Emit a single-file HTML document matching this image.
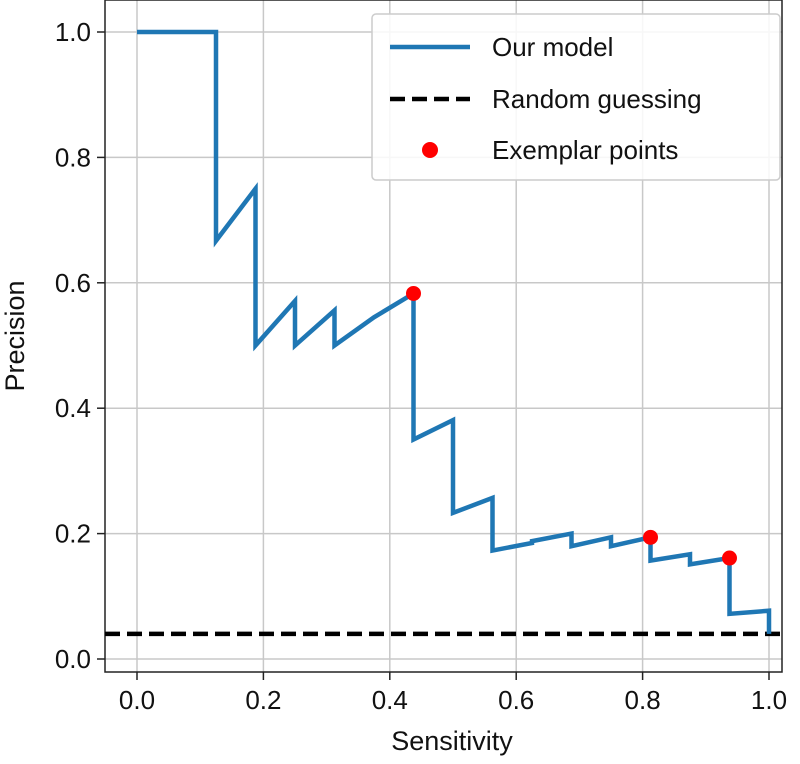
<!DOCTYPE html>
<html><head><meta charset="utf-8"><style>
body{margin:0;background:#fff;}
svg text{font-family:"Liberation Sans","DejaVu Sans",sans-serif;fill:#111;}
</style></head><body>
<svg id="chart" width="800" height="759" viewBox="0 0 800 759" xmlns="http://www.w3.org/2000/svg">
<g id="grid"></g>
<g id="axes"></g>
<g id="series"></g>
<text x="452" y="750" font-size="27" text-anchor="middle">Sensitivity</text>
<text x="0" y="0" font-size="27" text-anchor="middle" transform="translate(24,336) rotate(-90)">Precision</text>
<g>
<rect x="372" y="14" width="408" height="166" rx="4" fill="#fff" fill-opacity="0.85" stroke="#ccc" stroke-width="1.5"/>
<line x1="390" y1="47" x2="470" y2="47" stroke="#1f77b4" stroke-width="4.5"/>
<text x="492" y="56" font-size="26">Our model</text>
<line x1="390" y1="99" x2="470" y2="99" stroke="#000" stroke-width="4.5" stroke-dasharray="15,7"/>
<text x="492" y="108" font-size="26">Random guessing</text>
<circle cx="430" cy="150" r="8" fill="#ff0000"/>
<text x="492" y="159" font-size="26">Exemplar points</text>
</g>
</svg>
<script>
const recall=[0,0.125,0.125,0.1875,0.1875,0.25,0.25,0.3125,0.3125,0.375,0.4375,0.4375,0.5,0.5,0.5625,0.5625,0.625,0.625,0.6875,0.6875,0.75,0.75,0.8125,0.8125,0.875,0.875,0.9375,0.9375,1.0,1.0];
const precision=[1,1,0.667,0.75,0.5,0.571,0.5,0.556,0.5,0.545,0.583,0.35,0.381,0.233,0.257,0.173,0.185,0.188,0.2,0.18,0.194,0.18,0.194,0.157,0.167,0.151,0.161,0.072,0.077,0.04];
const exemplarX=[0.4375,0.8125,0.9375];
const exemplarY=[0.583,0.194,0.161];
const baseline=0.04;
const xTicks=[0,0.2,0.4,0.6,0.8,1.0];
const yTicks=[0,0.2,0.4,0.6,0.8,1.0];
const xTickLabels=["0.0","0.2","0.4","0.6","0.8","1.0"];
const yTickLabels=["0.0","0.2","0.4","0.6","0.8","1.0"];
const L=105,R=782,T=0,B=672;
const sx=v=>137+v*632, sy=v=>659-v*627;
const NS="http://www.w3.org/2000/svg";
function mk(tag,attrs,parent){const e=document.createElementNS(NS,tag);for(const k in attrs)e.setAttribute(k,attrs[k]);parent.appendChild(e);return e;}
const grid=document.getElementById('grid'),axes=document.getElementById('axes'),series=document.getElementById('series');
xTicks.forEach((t,i)=>{
 const g=mk('line',{x1:sx(t),x2:sx(t),y1:T,y2:B,stroke:'#c8c8c8','stroke-width':1.5},grid);
 
 
 const tk=mk('line',{x1:sx(t),x2:sx(t),y1:B,y2:B+8,stroke:'#222','stroke-width':1.5},axes);
 
 
 const lb=mk('text',{x:sx(t),y:B+37,'font-size':26,'text-anchor':'middle'},axes);
 lb.textContent=xTickLabels[i];
 
 
});
yTicks.forEach((t,i)=>{
 const g=mk('line',{x1:L,x2:R,y1:sy(t),y2:sy(t),stroke:'#c8c8c8','stroke-width':1.5},grid);
 
 
 const tk=mk('line',{x1:L-8,x2:L,y1:sy(t),y2:sy(t),stroke:'#222','stroke-width':1.5},axes);
 
 
 const lb=mk('text',{x:L-14,y:sy(t)+9,'font-size':26,'text-anchor':'end'},axes);
 lb.textContent=yTickLabels[i];
 
 
});
const fr=mk('rect',{x:L,y:T,width:R-L,height:B-T,fill:'none',stroke:'#222','stroke-width':1.5},axes);


const bl=mk('line',{x1:L,x2:R,y1:sy(baseline),y2:sy(baseline),stroke:'#000','stroke-width':4.5,'stroke-dasharray':'15,7'},series);


const pts=recall.map((r,i)=>sx(r)+','+sy(precision[i])).join(' ');
const pl=mk('polyline',{points:pts,fill:'none',stroke:'#1f77b4','stroke-width':4.5,'stroke-linejoin':'miter'},series);


exemplarX.forEach((x,i)=>{
 const c=mk('circle',{cx:sx(x),cy:sy(exemplarY[i]),r:7.5,fill:'#ff0000'},series);
 
 
});
</script>
</body></html>
